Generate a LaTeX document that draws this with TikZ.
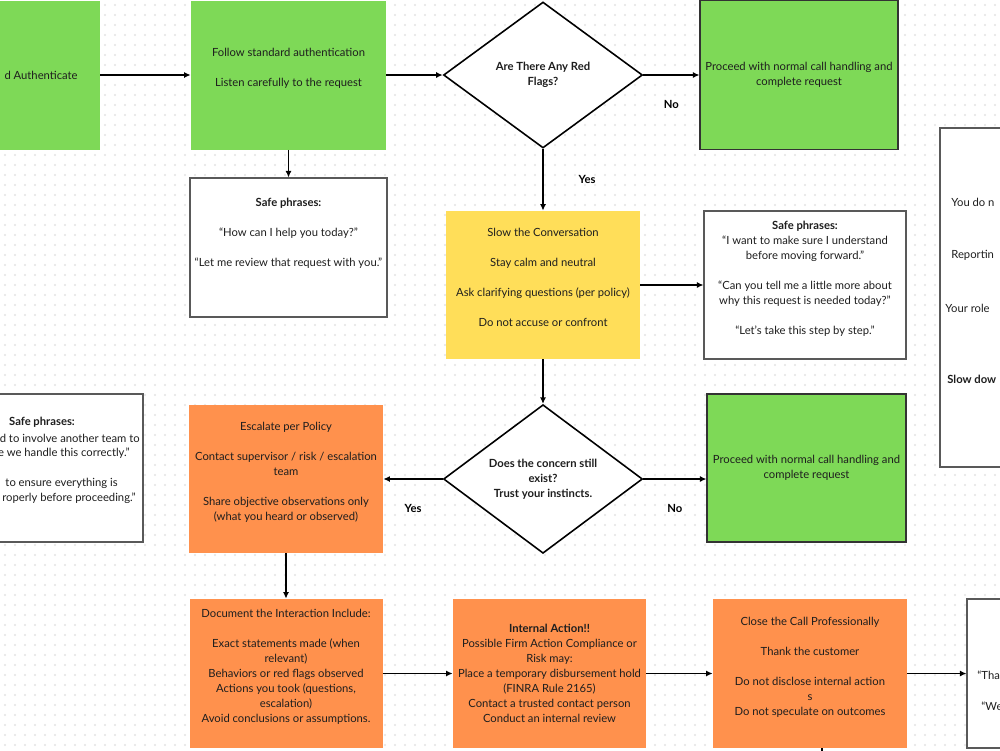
\documentclass[tikz,border=0pt]{standalone}
\usepackage{fontspec}
\setmainfont{Lato}
\usepackage{tikz}
\usetikzlibrary{arrows.meta, positioning, shapes.geometric}

\definecolor{boxgreen}{HTML}{7ED957}
\definecolor{boxorange}{HTML}{FF914D}
\definecolor{boxyellow}{HTML}{FFDE59}
\definecolor{dotgray}{HTML}{E3E3E3}
\definecolor{inkgray}{HTML}{1E1E1E}

\newcommand{\flowfont}{\fontsize{6.4}{8.54}\selectfont}
\newcommand{\blankline}{\\[\baselineskip]}
\newcommand{\pad}{\\\mbox{}}

\begin{document}
\begin{tikzpicture}[on grid, node distance=5cm, font=\flowfont, text=inkgray,
    >={Latex[length=0.13cm,width=0.12cm]}]
  \tikzstyle{card}=[rectangle, minimum width=3.9cm, minimum height=2.98cm, align=center, inner sep=0pt]
  \tikzstyle{greencard}=[card, fill=boxgreen]
  \tikzstyle{orangecard}=[card, fill=boxorange]
  \tikzstyle{yellowcard}=[card, fill=boxyellow]
  \tikzstyle{phrasecard}=[card, fill=white, draw=black!65, line width=0.6pt]
  \tikzstyle{question}=[diamond, draw=black, line width=0.9pt, fill=white, minimum width=3.98cm, minimum height=2.92cm, align=center, inner sep=0pt, font=\flowfont\bfseries]
  \tikzstyle{answer}=[font=\flowfont\bfseries]
  \tikzstyle{cut}=[inner sep=0pt]
  \tikzstyle{flow}=[->, line width=0.9pt, black]
  \tikzstyle{dotgrid}=[dotgray, line width=0.045cm, line cap=round, dash pattern=on 0pt off 0.2cm]

  \useasboundingbox (0,0) rectangle (20,-15);
  \clip (0,0) rectangle (20,-15);
  \fill[white] (0,0) rectangle (20,-15);
  \foreach \y in {0.1,0.3,...,14.95}
    \draw[dotgrid] (0.1,-\y) -- (20,-\y);

  % top row
  \node[greencard]            (B)  at (5.77,-1.5) {Follow standard authentication\blankline Listen carefully to the request\pad};
  \node[greencard, minimum width=4cm] (A) [left=5.77cm of B] {};
  \node[cut, anchor=east]     (Atxt) at (1.56,-1.5) {d Authenticate};
  \node[question]             (D1) [right=5.09cm of B] {Are There Any Red\\Flags?};
  \node[greencard, draw=black!80, line width=0.6pt, minimum width=3.96cm] (C) [right=5.12cm of D1]
    {Proceed with normal call handling and\\complete request};

  % second row
  \node[phrasecard, minimum width=3.94cm, minimum height=2.78cm] (S1) [below=3.45cm of B]
    {\textbf{Safe phrases:}\blankline “How can I help you today?”\blankline “Let me review that request with you.”\pad\pad};
  \node[yellowcard, minimum width=3.88cm, minimum height=2.96cm] (Y) [below=4.2cm of D1]
    {Slow the Conversation\blankline Stay calm and neutral\blankline Ask clarifying questions (per policy)\blankline Do not accuse or confront\pad};
  \node[phrasecard, minimum width=4.04cm, minimum height=2.96cm] (S2) [right=5.24cm of Y]
    {\textbf{Safe phrases:}\\“I want to make sure I understand\\before moving forward.”\blankline “Can you tell me a little more about\\why this request is needed today?”\blankline “Let’s take this step by step.”\pad};
  \node[phrasecard, minimum width=4cm, minimum height=6.78cm] (S3) at (20.8,-5.95) {};
  \node[cut, anchor=west] (S3a) at (19.02,-4.04) {You do n};
  \node[cut, anchor=west] (S3b) at (19.02,-5.10) {Reportin};
  \node[cut, anchor=west] (S3c) at (18.90,-6.16) {Your role};
  \node[cut, anchor=west, font=\flowfont\bfseries] (S3d) at (18.94,-7.58) {Slow dow};

  % third row
  \node[question, minimum height=2.96cm] (D2) [below=3.88cm of Y]
    {Does the concern still\\exist?\\Trust your instincts.};
  \node[orangecard, minimum width=3.88cm, minimum height=2.96cm] (E) [left=5.14cm of D2]
    {Escalate per Policy\blankline Contact supervisor / risk / escalation\\team\blankline Share objective observations only\\(what you heard or observed)\pad};
  \node[greencard, draw=black!80, line width=0.6pt, minimum width=3.98cm, minimum height=2.96cm] (F)
    [above right=0.22cm and 5.27cm of D2] {Proceed with normal call handling and\\complete request};
  \node[phrasecard, minimum width=4.04cm, minimum height=2.96cm] (S4) [above left=0.22cm and 4.88cm of E] {};
  \node[cut, font=\flowfont\bfseries] (S4a) at (0.84,-8.44) {Safe phrases:};
  \node[cut, anchor=east] (S4b) at (2.80,-8.76) {d to involve another team to};
  \node[cut, anchor=east] (S4c) at (2.60,-9.06) {e we handle this correctly.”};
  \node[cut, anchor=east] (S4d) at (2.36,-9.66) {to ensure everything is};
  \node[cut, anchor=east] (S4e) at (2.72,-9.96) {roperly before proceeding.”};

  % bottom row
  \node[orangecard, minimum width=3.86cm] (G) [below=3.89cm of E]
    {Document the Interaction Include:\blankline Exact statements made (when\\relevant)\\Behaviors or red flags observed\\Actions you took (questions,\\escalation)\\Avoid conclusions or assumptions.\pad};
  \node[orangecard, minimum width=3.86cm] (H) [right=5.27cm of G]
    {\textbf{Internal Action!!}\\Possible Firm Action Compliance or\\Risk may:\\Place a temporary disbursement hold\\(FINRA Rule 2165)\\Contact a trusted contact person\\Conduct an internal review};
  \node[orangecard, minimum width=3.88cm] (I) [right=5.21cm of H]
    {Close the Call Professionally\blankline Thank the customer\blankline Do not disclose internal action\\s\\Do not speculate on outcomes\pad};
  \node[phrasecard, minimum width=4cm] (J) [right=5.14cm of I] {};
  \node[cut, anchor=west] (Ja) at (19.54,-13.5) {“Tha};
  \node[cut, anchor=west] (Jb) at (19.62,-14.12) {“We};
  \coordinate (Iout) at (16.44,-15.3);

  % connectors
  \draw[flow] (A) -- (B);
  \draw[flow] (B) -- (D1);
  \draw[flow] (D1) -- node[answer, below=0.38cm] {No} (C);
  \draw[flow] (D1) -- node[answer, right=0.58cm] {Yes} (Y);
  \draw[flow] (B) -- (S1);
  \draw[flow] (Y) -- (S2);
  \draw[flow] (Y) -- (D2);
  \draw[flow] (D2) -- node[answer, below=0.38cm] {Yes} (E);
  \draw[flow] (D2.east) -- node[answer, below=0.38cm] {No} (D2.east -| F.west);
  \draw[flow] (E.south) -- (E.south |- G.north);
  \draw[flow] (G) -- (H);
  \draw[flow] (H) -- (I);
  \draw[flow] (I) -- (J);
  \draw[line width=0.9pt] (I.south -| Iout) -- (Iout);
\end{tikzpicture}
\end{document}
